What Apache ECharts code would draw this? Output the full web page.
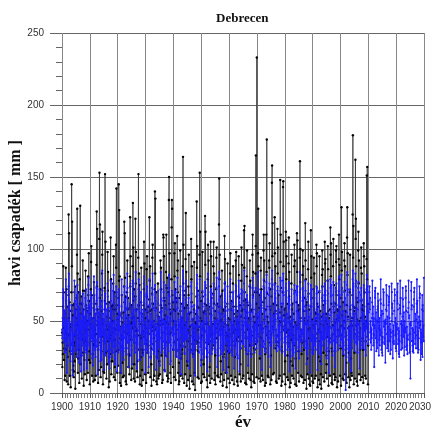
<!DOCTYPE html>
<html>
<head>
<meta charset="utf-8">
<script src="https://cdn.jsdelivr.net/npm/echarts@6/dist/echarts.min.js"></script>
<style>
  html, body { margin: 0; padding: 0; background: #fff; }
  #chart { width: 433px; height: 439px; }
</style>
</head>
<body>
<div id="chart"></div>
<script>
// Monthly precipitation at Debrecen [mm], twelve values per year (Jan..Dec).
// Measured series, one array per decade.
const obs1900s = [
  42,18,35,27,60,88,45,70,23,52,31,9,
  38,12,55,41,87,64,30,72,8,45,60,33,
  25,41,6,68,124,52,111,40,63,12,48,29,
  46,4,34,57,70,145,88,119,27,54,16,61,
  19,33,11,15,62,40,22,35,74,3,58,43,
  52,27,40,66,96,128,47,83,14,70,24,38,
  30,45,7,58,79,62,130,55,20,41,67,26,
  41,10,62,37,50,92,71,28,58,5,35,49,
  23,38,13,71,44,85,36,61,42,33,9,57,
  35,50,44,14,81,68,59,97,23,64,29,6
];
const obs1910s = [
  48,21,36,55,72,91,102,45,68,12,52,40,
  27,34,8,46,59,77,33,52,40,9,44,36,
  55,12,41,62,89,126,74,114,47,58,30,7,
  33,48,16,53,107,153,66,117,35,72,11,64,
  18,29,57,39,83,96,112,48,6,51,15,42,
  40,14,35,73,64,152,58,105,62,28,47,10,
  29,53,20,44,98,71,84,36,57,4,63,25,
  46,8,38,27,52,108,40,79,13,60,22,50,
  22,42,61,49,76,58,95,11,45,37,70,18,
  37,9,44,58,103,87,142,61,29,55,14,47
];
const obs1920s = [
  51,19,30,66,145,78,127,54,81,7,46,38,
  14,32,5,40,55,68,37,49,21,33,11,29,
  43,56,12,74,119,63,111,80,42,67,8,52,
  31,6,47,35,70,92,58,41,66,18,54,27,
  26,40,13,59,81,122,74,95,37,48,9,61,
  49,17,52,45,88,132,64,101,53,10,72,20,
  35,46,8,67,121,76,98,43,58,40,15,44,
  22,11,40,52,94,152,61,83,30,75,48,6,
  40,12,25,38,63,87,48,5,55,16,41,30,
  28,9,43,61,72,105,39,90,47,58,13,52
];
const obs1930s = [
  45,37,7,34,86,67,95,56,28,42,60,14,
  33,50,41,65,122,78,57,88,11,25,47,31,
  20,5,58,43,69,94,103,46,62,34,9,50,
  38,44,12,72,140,83,135,59,44,70,8,36,
  25,6,37,29,48,76,41,10,53,12,39,22,
  47,13,50,56,92,61,87,72,26,59,42,7,
  31,42,9,48,110,108,66,95,51,16,64,28,
  54,26,45,61,84,110,73,49,12,80,35,8,
  36,48,10,70,134,150,62,97,58,41,14,55,
  42,7,56,79,115,134,128,68,44,63,18,30
];
const obs1940s = [
  50,35,11,58,97,81,104,57,72,9,66,47,
  29,44,37,63,109,85,70,92,14,55,30,6,
  21,8,33,47,66,99,57,12,62,24,50,27,
  45,30,52,10,88,164,76,103,36,68,7,59,
  32,47,13,71,93,125,59,84,49,5,61,22,
  19,36,44,9,74,68,96,42,55,3,38,46,
  40,12,30,56,107,79,63,88,8,47,34,51,
  27,39,6,42,58,91,45,14,37,2,49,30,
  48,55,36,67,133,87,102,60,11,71,29,44,
  35,10,46,59,96,153,81,112,52,38,64,7
];
const obs1950s = [
  23,40,8,50,70,98,67,45,13,56,20,43,
  44,11,57,62,123,89,112,73,48,35,61,9,
  30,25,4,48,79,103,58,92,34,60,12,46,
  18,36,7,55,105,74,95,40,66,10,42,31,
  41,48,33,69,88,105,62,83,9,52,14,57,
  26,6,45,38,72,94,101,51,62,12,48,35,
  37,42,11,60,117,149,79,96,44,67,8,50,
  22,13,51,44,68,85,55,71,5,40,58,25,
  46,27,9,57,109,76,93,48,60,14,42,38,
  33,4,40,29,62,90,47,10,52,18,35,44
];
const obs1960s = [
  28,39,7,51,83,97,70,58,12,64,41,30,
  41,9,36,47,76,88,60,42,55,6,50,33,
  25,44,11,60,92,71,98,53,37,48,8,57,
  36,5,49,39,67,95,82,66,44,13,61,40,
  20,31,8,53,78,101,57,89,36,58,10,47,
  47,12,42,64,113,87,116,70,52,7,65,38,
  30,48,6,56,81,99,63,44,61,14,27,52,
  39,10,44,33,74,92,51,78,9,57,42,4,
  27,40,13,58,96,110,68,84,46,8,53,31,
  44,7,30,49,70,83,102,165,34,62,11,233
];
const obs1970s = [
  36,52,41,70,97,128,88,59,10,47,68,39,
  24,33,47,8,85,94,61,72,38,12,55,42,
  45,9,36,63,99,110,78,92,51,66,5,27,
  31,46,7,58,110,84,176,69,40,53,12,49,
  38,11,43,35,92,87,104,60,72,6,58,33,
  26,41,9,67,146,158,95,118,46,13,62,44,
  50,14,55,48,122,97,76,88,57,31,8,36,
  33,7,40,61,114,83,101,52,35,68,10,47,
  42,50,12,56,148,91,110,73,49,5,60,32,
  29,8,46,70,143,147,88,105,54,44,13,58
];
const obs1980s = [
  47,22,6,59,112,106,79,95,42,62,11,26,
  35,44,9,52,90,108,67,84,40,4,53,41,
  22,7,48,37,76,96,58,12,62,19,35,46,
  40,10,33,55,88,103,71,92,6,49,24,38,
  31,47,5,63,111,84,106,57,45,14,61,29,
  48,8,39,58,94,161,77,100,52,12,44,37,
  27,35,11,41,82,99,64,88,7,57,30,50,
  36,52,9,66,118,92,79,61,48,3,63,34,
  24,13,44,50,86,105,69,10,58,38,6,45,
  43,5,37,60,113,80,95,66,12,51,40,8
];
const obs1990s = [
  30,40,7,47,72,94,58,83,45,10,56,36,
  38,12,50,55,103,88,97,62,41,4,60,44,
  25,36,9,44,70,95,52,6,57,22,48,13,
  42,3,39,53,82,99,74,86,11,61,28,47,
  33,45,8,64,105,90,68,93,50,14,55,26,
  20,10,48,39,78,102,86,57,5,29,36,52,
  46,38,12,58,115,96,81,104,62,7,31,40,
  29,6,41,47,88,107,60,75,13,56,44,9,
  37,49,11,62,99,91,102,68,51,4,58,39,
  44,8,52,57,93,110,79,89,40,60,12,46
];
const obs2000s = [
  31,40,5,66,129,85,98,54,47,10,63,35,
  26,9,45,50,92,104,71,88,13,57,30,42,
  40,21,7,61,108,129,82,97,53,45,11,28,
  33,46,4,43,70,96,58,9,41,24,50,14,
  47,12,52,68,124,179,94,116,60,6,57,44,
  28,41,10,59,162,107,121,88,47,66,8,51,
  39,5,48,63,99,112,76,92,13,50,42,30,
  45,36,9,52,87,101,64,83,58,11,61,38,
  30,48,7,57,104,95,88,70,44,53,12,46,
  36,10,50,45,93,151,79,157,39,62,6,33
];

// Modelled series, one array per decade, running on to 2029.
const mod1900s = [
  44,38,52,47,66,72,58,49,35,41,57,30,
  28,45,36,55,79,62,70,43,51,14,46,39,
  50,33,41,60,74,83,65,58,37,48,31,42,
  22,36,29,44,61,57,48,33,52,12,40,35,
  41,27,47,53,70,78,55,64,40,57,29,46,
  35,48,25,49,68,61,75,52,30,44,60,33,
  47,21,55,42,58,70,63,38,54,15,37,50,
  26,41,33,62,49,69,44,57,46,36,16,53,
  38,52,45,30,66,60,54,72,28,59,34,17,
  49,29,40,56,64,75,80,47,61,33,51,42
];
const mod1910s = [
  31,43,27,51,70,58,66,45,38,52,24,46,
  40,19,48,37,62,81,57,68,42,30,55,34,
  25,37,32,58,73,64,77,50,33,47,13,56,
  46,30,52,41,55,72,60,39,64,22,44,31,
  33,49,23,60,68,85,71,58,40,55,36,27,
  51,16,44,35,63,59,69,47,26,43,58,38,
  29,40,38,54,76,67,53,62,49,21,41,48,
  43,17,30,47,59,78,64,36,57,39,25,35,
  36,45,49,28,71,62,82,55,32,50,43,20,
  24,33,41,57,67,74,59,70,45,15,52,40
];
const mod1920s = [
  48,28,35,44,72,65,61,43,56,34,30,45,
  32,41,14,53,60,79,68,52,29,47,38,26,
  39,23,46,38,74,70,57,65,48,31,54,36,
  27,47,31,59,66,83,73,46,35,53,18,41,
  45,35,50,42,62,58,76,60,52,26,47,33,
  30,20,37,55,78,69,54,48,39,58,35,49,
  52,39,28,48,65,84,67,57,31,40,17,38,
  34,44,43,61,58,72,79,50,46,23,56,29,
  23,31,36,33,70,63,55,41,58,37,43,47,
  42,26,53,50,76,81,62,68,34,49,30,14
];
const mod1930s = [
  37,46,30,57,69,66,74,53,43,28,51,35,
  28,18,41,45,61,79,60,47,55,36,24,44,
  49,38,34,62,73,68,83,59,30,50,41,27,
  33,29,47,40,66,75,57,64,48,16,46,39,
  26,42,24,54,58,62,71,43,37,45,32,52,
  44,19,38,48,72,84,65,56,28,57,36,30,
  31,35,51,36,64,70,77,61,50,33,48,15,
  50,27,33,59,75,66,58,45,41,25,53,43,
  35,46,29,43,68,82,73,67,35,52,20,37,
  22,33,45,56,60,71,64,50,57,40,44,31
];
const mod1940s = [
  46,30,36,41,77,63,70,48,33,46,26,50,
  29,41,25,58,64,80,59,66,44,30,51,34,
  38,24,48,46,57,68,74,42,53,13,39,43,
  51,36,32,60,71,85,62,57,36,49,33,28,
  27,45,40,37,65,73,78,63,47,38,55,41,
  42,22,51,52,59,66,56,45,30,17,42,36,
  34,39,28,47,74,77,69,60,51,44,29,48,
  25,30,37,41,56,61,52,38,40,12,35,32,
  47,43,34,57,73,82,76,64,46,53,37,40,
  39,28,46,50,68,79,66,58,32,41,48,19
];
const mod1950s = [
  30,37,27,44,62,71,60,47,39,50,24,45,
  48,25,42,55,77,68,75,55,43,31,52,37,
  26,40,15,49,65,83,58,62,35,46,28,41,
  36,22,45,39,70,64,72,48,54,27,44,30,
  43,47,35,59,68,76,63,57,37,50,33,49,
  28,30,49,42,61,73,80,51,46,18,42,35,
  50,38,26,56,74,84,65,60,40,55,31,44,
  33,27,41,45,59,69,55,43,29,38,49,16,
  40,44,30,53,72,63,77,54,51,34,37,47,
  24,14,38,36,57,74,58,41,45,28,36,33
];
const mod1960s = [
  37,41,29,50,67,79,62,58,33,49,40,28,
  45,26,43,47,63,70,57,44,52,17,46,38,
  31,39,34,58,75,66,74,56,41,44,27,51,
  26,24,48,40,60,78,68,63,38,15,53,34,
  42,35,31,54,69,72,59,71,44,50,35,43,
  34,47,39,61,76,85,70,58,49,32,57,40,
  48,30,27,52,65,68,64,46,56,38,19,47,
  29,37,44,38,62,75,55,61,35,52,41,25,
  39,43,33,56,73,80,66,67,45,36,48,33,
  46,28,36,47,58,71,73,55,38,54,31,44
];
const mod1970s = [
  35,50,41,63,81,84,69,72,53,39,56,37,
  27,33,46,44,66,70,57,64,42,16,49,43,
  44,36,32,59,74,79,67,73,48,57,34,29,
  30,45,28,53,77,82,70,60,41,47,37,46,
  41,25,43,38,68,73,76,58,55,18,52,35,
  33,39,35,60,79,85,72,75,45,42,54,40,
  48,31,50,46,76,69,63,66,51,35,44,38,
  36,29,39,55,71,74,69,53,40,58,32,45,
  40,47,30,52,80,71,78,62,47,37,53,31,
  28,38,45,62,78,83,70,68,50,43,35,51
];
const mod1980s = [
  45,26,37,54,73,76,64,71,44,55,39,30,
  34,42,32,49,66,77,59,65,41,15,50,42,
  25,30,46,40,61,72,56,46,54,26,37,44,
  39,28,35,51,69,75,63,70,34,47,17,37,
  31,44,29,57,74,68,74,56,45,37,55,32,
  46,24,40,53,70,84,66,72,50,36,43,39,
  29,36,44,41,64,73,58,67,39,52,33,47,
  37,49,31,60,78,71,65,57,48,20,57,35,
  27,33,42,48,67,76,61,47,53,40,31,44,
  42,14,37,55,75,65,72,60,36,50,40,28
];
const mod1990s = [
  32,40,27,46,62,72,56,66,44,33,52,37,
  38,30,48,52,74,69,73,58,42,16,55,43,
  28,36,33,43,60,71,54,42,52,27,46,31,
  41,20,39,50,66,74,64,68,37,55,33,45,
  34,44,30,59,76,70,62,71,49,38,52,29,
  24,31,46,40,64,78,69,55,43,14,38,50,
  45,38,35,54,79,73,67,75,56,45,34,40,
  30,26,41,46,68,77,58,63,36,51,43,18,
  37,47,29,57,73,70,76,61,50,35,54,39,
  43,30,50,53,71,81,65,68,40,56,33,45
];
const mod2000s = [
  32,41,37,60,82,68,73,52,46,30,57,36,
  27,33,44,49,70,77,61,66,39,53,2,42,
  40,25,31,56,75,84,68,72,51,45,37,30,
  34,45,22,42,60,72,55,53,41,15,48,36,
  46,31,50,61,79,85,71,76,55,38,53,44,
  29,41,35,55,83,74,78,66,46,59,34,49,
  39,28,47,58,73,77,64,70,37,48,17,31,
  44,36,31,50,68,73,59,65,53,33,56,38,
  31,46,40,54,75,71,69,60,43,50,30,45,
  36,26,49,45,72,82,64,74,39,57,46,34
];
const mod2010s = [
  48,37,56,62,70,74,58,66,42,50,35,45,
  30,44,38,52,63,78,55,47,60,33,41,52,
  40,18,47,45,71,66,73,51,38,56,29,43,
  35,50,31,58,60,69,49,64,45,26,47,37,
  52,33,44,40,65,79,62,54,30,42,57,28,
  26,39,35,55,72,61,70,46,50,34,38,49,
  44,21,51,48,58,75,57,68,41,31,53,36,
  33,46,29,61,67,63,74,52,36,48,27,44,
  39,30,42,50,76,70,59,62,55,24,43,35,
  47,36,34,57,64,72,68,49,40,52,31,46
];
const mod2020s = [
  29,41,48,44,70,62,76,58,34,45,37,27,
  43,25,36,59,61,78,55,66,48,30,50,40,
  35,47,31,53,73,65,60,43,39,56,26,44,
  50,32,45,42,66,74,71,57,30,38,46,33,
  27,40,37,56,59,78,63,52,54,28,41,48,
  41,10,49,47,71,77,58,61,36,45,33,29,
  36,44,28,60,65,70,73,50,42,34,55,38,
  46,31,40,51,62,79,56,64,31,49,28,43,
  30,38,53,45,74,66,69,47,50,23,44,35,
  42,27,35,58,68,25,61,57,39,47,36,80
];

const observed = [].concat(obs1900s, obs1910s, obs1920s, obs1930s, obs1940s,
  obs1950s, obs1960s, obs1970s, obs1980s, obs1990s, obs2000s);
const modelled = [].concat(mod1900s, mod1910s, mod1920s, mod1930s, mod1940s,
  mod1950s, mod1960s, mod1970s, mod1980s, mod1990s, mod2000s, mod2010s, mod2020s);

const firstYear = 1900;
const axisYears = [1900, 2030];
const axisMm = [0, 250];

// Place each monthly value in the middle of its month on a decimal-year axis.
function toPoints(values) {
  return values.map((v, i) => [firstYear + (i + 0.5) / 12, v]);
}

const chart = echarts.init(document.getElementById('chart'), null, { renderer: 'canvas' });
chart.setOption({
  animation: false,
  backgroundColor: '#fff',
  title: {
    text: 'Debrecen',
    left: 211,
    top: 7,
    textStyle: { fontFamily: 'Liberation Serif', fontWeight: 'bold', fontSize: 13, color: '#111' }
  },
  grid: { left: 62, right: 9, top: 33, bottom: 46, containLabel: false, outerBoundsMode: 'none' },
  xAxis: {
    type: 'value',
    min: axisYears[0],
    max: axisYears[1],
    interval: 10,
    name: 'év',
    nameLocation: 'middle',
    nameGap: 21,
    nameMoveOverlap: false,
    nameTextStyle: { fontFamily: 'Liberation Serif', fontWeight: 'bold', fontSize: 17, color: '#111' },
    axisLine: { show: true, lineStyle: { color: '#555', width: 1 } },
    axisTick: { show: true, length: 5, lineStyle: { color: '#555' } },
    minorTick: { show: true, splitNumber: 10, length: 5, lineStyle: { color: '#777' } },
    splitLine: { show: true, lineStyle: { color: '#888', width: 1 } },
    axisLabel: {
      color: '#333', fontSize: 10, fontFamily: 'Liberation Sans', margin: 9,
      showMinLabel: true, showMaxLabel: true, hideOverlap: false,
      // the last year label is nudged inwards so it stays inside the canvas
      formatter: v => v === axisYears[1] ? '{last|' + v + '}' : String(v),
      rich: { last: { fontSize: 10, fontFamily: 'Liberation Sans', color: '#333', padding: [0, 8, 0, 0] } }
    }
  },
  yAxis: {
    type: 'value',
    min: axisMm[0],
    max: axisMm[1],
    interval: 50,
    name: 'havi csapadék [ mm ]',
    nameLocation: 'middle',
    nameGap: 38,
    nameMoveOverlap: false,
    nameTextStyle: { fontFamily: 'Liberation Serif', fontWeight: 'bold', fontSize: 16, color: '#111' },
    axisLine: { show: false },
    axisTick: { show: true, length: 12, lineStyle: { color: '#666' } },
    minorTick: { show: true, splitNumber: 5, length: 6, lineStyle: { color: '#666' } },
    splitLine: { show: true, lineStyle: { color: '#666', width: 1 } },
    axisLabel: { color: '#333', fontSize: 10, fontFamily: 'Liberation Sans', margin: 18, formatter: v => String(v) }
  },
  series: [
    {
      name: 'mért',
      type: 'line',
      data: toPoints(observed),
      symbol: 'circle',
      symbolSize: 2.4,
      showAllSymbol: true,
      silent: true,
      itemStyle: { color: '#000' },
      lineStyle: { color: '#333', width: 0.8 },
      z: 2
    },
    {
      name: 'modellezett',
      type: 'line',
      data: toPoints(modelled),
      symbol: 'circle',
      symbolSize: 2.2,
      showAllSymbol: true,
      silent: true,
      itemStyle: { color: '#1a1aff' },
      lineStyle: { color: '#1a1aff', width: 0.8 },
      z: 3
    }
  ]
});
</script>
</body>
</html>
